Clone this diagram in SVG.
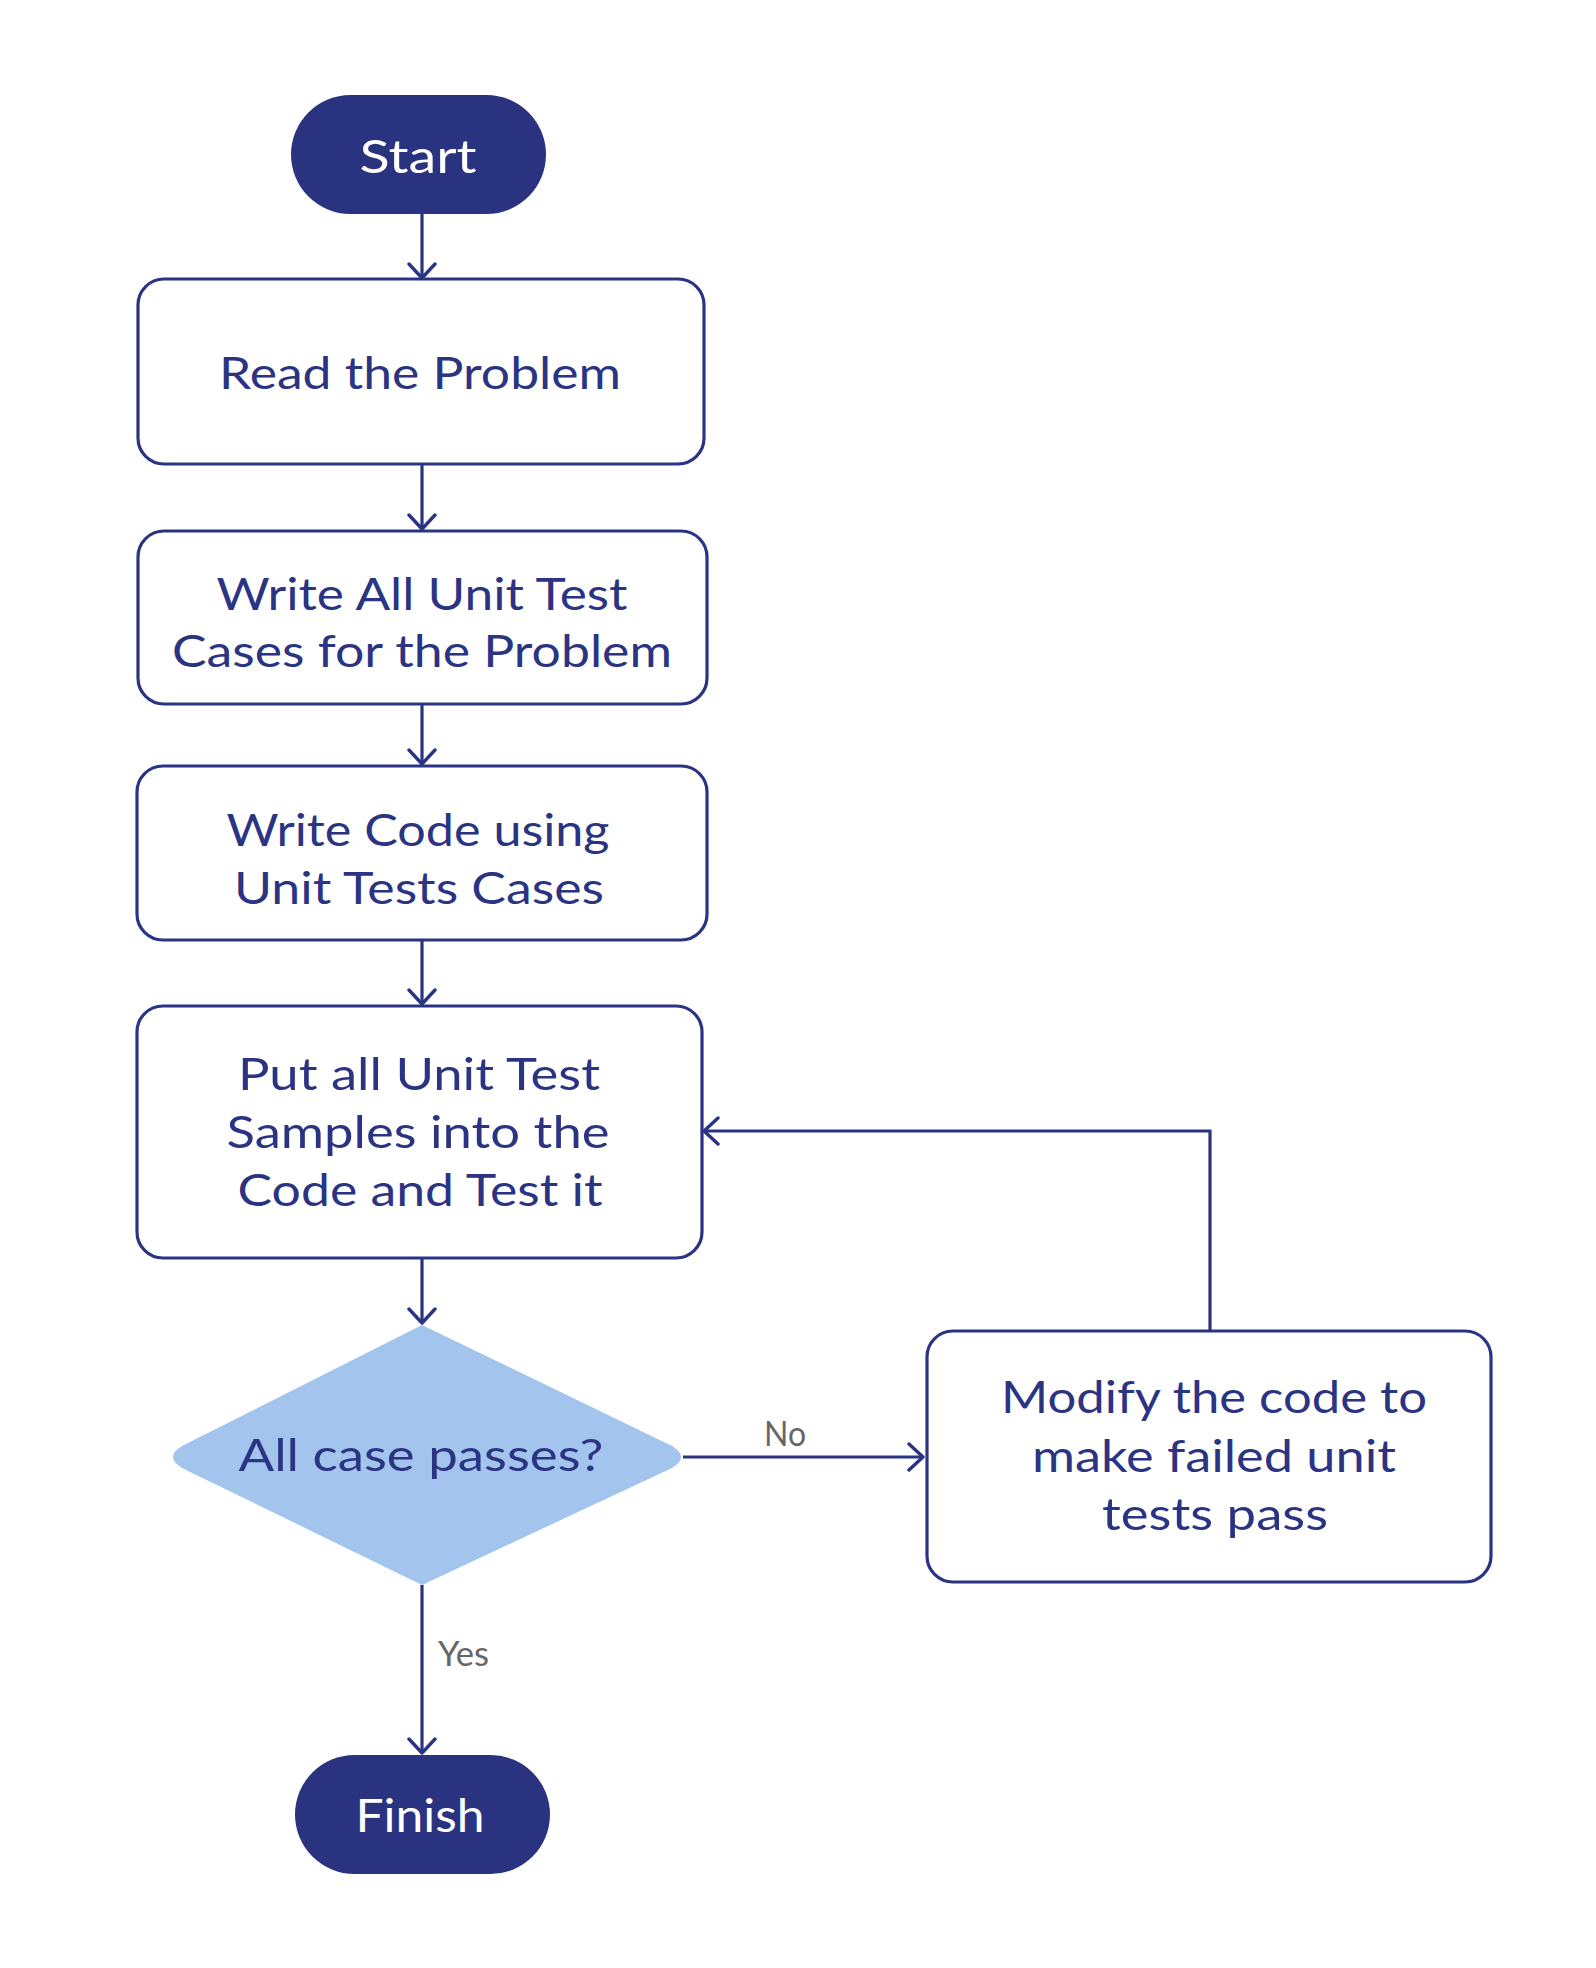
<svg xmlns="http://www.w3.org/2000/svg" width="1596" height="1968" viewBox="0 0 1596 1968">
<defs>
<style>
.box{fill:#ffffff;stroke:#2b3483;stroke-width:3.2}
.term{fill:#2a3380}
.dec{fill:#a3c4ec}
.t{font-family:"Lato","Noto Sans","Liberation Sans",sans-serif;font-size:44px;fill:#2b3483;text-anchor:middle}
.tw{font-family:"Lato","Noto Sans","Liberation Sans",sans-serif;font-size:46px;fill:#ffffff;text-anchor:middle}
.lbl{font-family:"Lato","Noto Sans","Liberation Sans",sans-serif;font-size:34px;fill:#666666}
.c{fill:none;stroke:#2b3483;stroke-width:3.2}
</style>
<marker id="ah" viewBox="0 0 20 30" refX="17" refY="15" markerWidth="20" markerHeight="30" markerUnits="userSpaceOnUse" orient="auto">
<path d="M3,2 L17,15 L3,28" fill="none" stroke="#2b3483" stroke-width="3.4" stroke-linecap="round" stroke-linejoin="round"/>
</marker>
</defs>
<rect width="1596" height="1968" fill="#ffffff"/>
<g id="connectors">
<line class="c" x1="422" y1="214" x2="422" y2="278" marker-end="url(#ah)"/>
<line class="c" x1="422" y1="464" x2="422" y2="529" marker-end="url(#ah)"/>
<line class="c" x1="422" y1="704" x2="422" y2="764" marker-end="url(#ah)"/>
<line class="c" x1="422" y1="940" x2="422" y2="1004" marker-end="url(#ah)"/>
<line class="c" x1="422" y1="1258" x2="422" y2="1323" marker-end="url(#ah)"/>
<line class="c" x1="422" y1="1585" x2="422" y2="1753" marker-end="url(#ah)"/>
<line class="c" x1="683" y1="1457" x2="923" y2="1457" marker-end="url(#ah)"/>
<polyline class="c" points="1210,1331 1210,1131 704,1131" marker-end="url(#ah)"/>
<text class="lbl" x="764" y="1446" textLength="42" lengthAdjust="spacingAndGlyphs">No</text>
<text class="lbl" x="438" y="1666" textLength="51" lengthAdjust="spacingAndGlyphs">Yes</text>
</g>
<g id="start">
<rect class="term" x="291" y="95" width="255" height="119" rx="59.5"/>
<text class="tw" x="418" y="173" textLength="117" lengthAdjust="spacingAndGlyphs">Start</text>
</g>
<g id="read">
<rect class="box" x="138" y="279" width="566" height="185" rx="26"/>
<text class="t" x="420" y="389" textLength="402" lengthAdjust="spacingAndGlyphs">Read the Problem</text>
</g>
<g id="write-tests">
<rect class="box" x="138" y="531" width="569" height="173" rx="26"/>
<text class="t" x="422" y="610" textLength="411" lengthAdjust="spacingAndGlyphs">Write All Unit Test</text>
<text class="t" x="422" y="667" textLength="500" lengthAdjust="spacingAndGlyphs">Cases for the Problem</text>
</g>
<g id="write-code">
<rect class="box" x="137" y="766" width="570" height="174" rx="26"/>
<text class="t" x="418" y="846" textLength="383" lengthAdjust="spacingAndGlyphs">Write Code using</text>
<text class="t" x="419" y="904" textLength="370" lengthAdjust="spacingAndGlyphs">Unit Tests Cases</text>
</g>
<g id="put-tests">
<rect class="box" x="137" y="1006" width="565" height="252" rx="26"/>
<text class="t" x="419" y="1090" textLength="362" lengthAdjust="spacingAndGlyphs">Put all Unit Test</text>
<text class="t" x="418" y="1148" textLength="383" lengthAdjust="spacingAndGlyphs">Samples into the</text>
<text class="t" x="420" y="1206" textLength="365" lengthAdjust="spacingAndGlyphs">Code and Test it</text>
</g>
<g id="decision">
<path class="dec" d="M422,1325 L672,1446 Q690,1457 672,1468 L422,1585 L182,1468 Q164,1457 182,1446 Z"/>
<text class="t" x="421" y="1471" textLength="365" lengthAdjust="spacingAndGlyphs">All case passes?</text>
</g>
<g id="modify">
<rect class="box" x="927" y="1331" width="564" height="251" rx="26"/>
<text class="t" x="1214" y="1413" textLength="426" lengthAdjust="spacingAndGlyphs">Modify the code to</text>
<text class="t" x="1214" y="1472" textLength="364" lengthAdjust="spacingAndGlyphs">make failed unit</text>
<text class="t" x="1215" y="1530" textLength="226" lengthAdjust="spacingAndGlyphs">tests pass</text>
</g>
<g id="finish">
<rect class="term" x="295" y="1755" width="255" height="119" rx="59.5"/>
<text class="tw" x="420" y="1832" textLength="129" lengthAdjust="spacingAndGlyphs">Finish</text>
</g>
</svg>
